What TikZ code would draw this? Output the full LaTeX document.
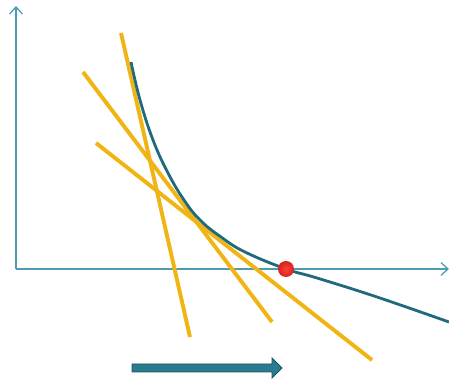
\documentclass[tikz,border=0pt]{standalone}
\usetikzlibrary{arrows.meta}
\definecolor{axblue}{HTML}{4E9BB4}
\definecolor{curveteal}{HTML}{1F6A7C}
\definecolor{budgold}{HTML}{F0B414}
\definecolor{dotred}{HTML}{DC1E1C}
\definecolor{dotlight}{HTML}{F04A3E}
\definecolor{shiftteal}{HTML}{2C7A8E}
\definecolor{shiftdark}{HTML}{1A5566}

\begin{document}
\begin{tikzpicture}[
  x=0.025cm, y=-0.025cm,
  axis/.style={-{Straight Barb[length=5pt, width=9pt]}, axblue, line width=0.9pt},
  budget/.style={budgold, line width=2.8pt},
  indiff/.style={curveteal, line width=2pt},
]

% ══════════════════════════════════════════════════════
% Canvas (pixel grid of the reference)
% ══════════════════════════════════════════════════════
\useasboundingbox (0,0) rectangle (449,380);

% ══════════════════════════════════════════════════════
% Axes
% ══════════════════════════════════════════════════════
\coordinate (origin) at (16,269);
\draw[axis] (origin) -- (16,6);
\draw[axis] (origin) -- (449,269);

% ══════════════════════════════════════════════════════
% Budget lines (rotating about the curve)
% ══════════════════════════════════════════════════════
\foreach \ax/\ay/\bx/\by in {%
  121/33/190/337,%
  83/72/272/322,%
  96/143/372/360%
}{
  \draw[budget] (\ax, \ay) -- (\bx, \by);
}

% ══════════════════════════════════════════════════════
% Indifference curve
% ══════════════════════════════════════════════════════
\draw[indiff] plot[smooth, tension=0.7] coordinates {
  (131,62) (140,100) (153,140) (168,173) (184,200) (200,220)
  (221,237) (245,252) (286,269) (317,278) (377,297) (449,322)
};

% ══════════════════════════════════════════════════════
% Optimum point
% ══════════════════════════════════════════════════════
\shade[inner color=dotlight, outer color=dotred] (286,269) circle (8);

% ══════════════════════════════════════════════════════
% Shift arrow
% ══════════════════════════════════════════════════════
\filldraw[fill=shiftteal, draw=shiftdark, line width=0.6pt]
  (132,364) -- (272,364) -- (272,358) -- (282,368)
  -- (272,378) -- (272,372) -- (132,372) -- cycle;

\end{tikzpicture}
\end{document}
